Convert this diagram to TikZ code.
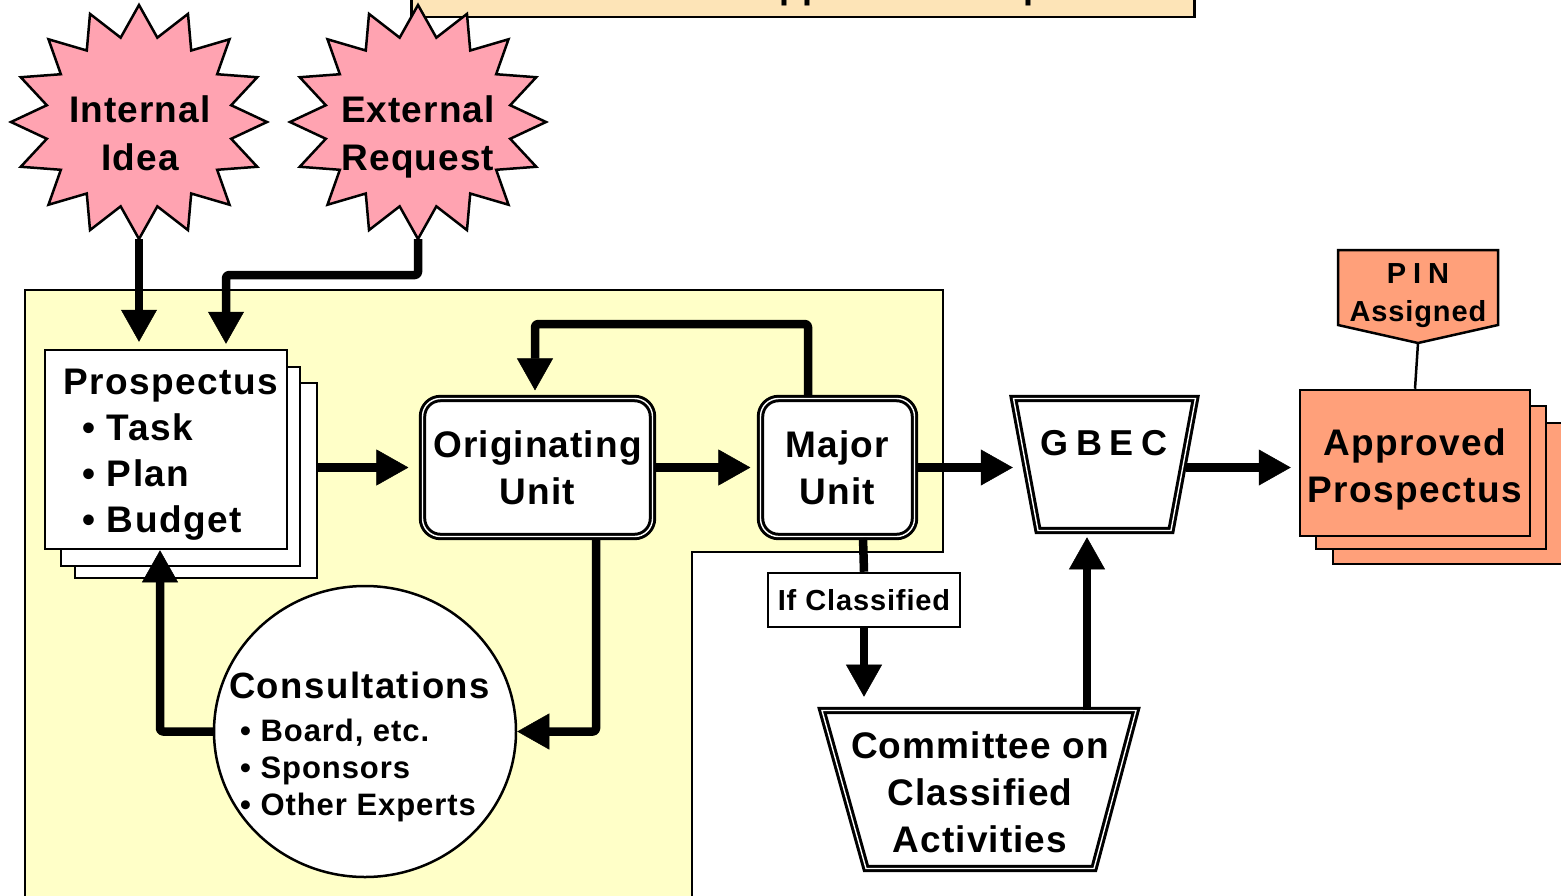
\documentclass[tikz,border=0pt]{standalone}
\usepackage{fontspec}
\setmainfont{Liberation Sans}[LetterSpace=3]
\newfontfamily\widefont{Liberation Sans}[LetterSpace=4]
\usetikzlibrary{arrows.meta,shapes.geometric}
\definecolor{pinkc}{RGB}{255,163,177}
\definecolor{yellowc}{RGB}{255,255,200}
\definecolor{titlec}{RGB}{253,228,183}
\definecolor{salmonc}{RGB}{255,160,122}
\newcommand\fsz[2]{\fontsize{#1}{#2}\selectfont}
\tikzset{
  box/.style={draw, line width=2.5pt, fill=white, inner sep=0pt},
  dbl/.style={draw, line width=3pt, double=white, double distance=1.4pt, fill=white, inner sep=0pt},
  arr/.style={line width=8.5pt, line join=round, rounded corners=3pt,
    -{Triangle[width=36pt,length=32pt,line width=0.5pt]}},
  bar/.style={line width=8.5pt},
  thinline/.style={line width=2.5pt},
  txt/.style={inner sep=0pt, font=\bfseries},
  starsty/.style={draw, line width=2.5pt, fill=pinkc, line join=miter},
  frame/.style={inner sep=0pt},
}
\begin{document}
\begin{tikzpicture}[x=1pt,y=-1pt]
\useasboundingbox (0,0) rectangle (1561,895);
% title box (mostly cut off)
\node[box, fill=titlec, minimum width=783, minimum height=60, anchor=south west] (titlebox) at (410,18) {};
\node[txt, anchor=base west, font=\bfseries\fsz{36}{44}] (title) at (515,-2) {From Idea to Approved Prospectus};
% yellow region
\draw[line width=2.5pt, fill=yellowc] (25,290) -- (943,290) -- (943,552) -- (692,552) -- (692,905) -- (25,905) -- cycle;
% starbursts
\draw[starsty] plot[samples at={0,...,31}, variable=\i]
  ({139+(128-34*mod(\i,2))*cos(90+\i*11.25)}, {122+(117-31*mod(\i,2))*sin(90+\i*11.25)}) -- cycle;
\draw[starsty] plot[samples at={0,...,31}, variable=\i]
  ({418+(128-34*mod(\i,2))*cos(90+\i*11.25)}, {122+(117-31*mod(\i,2))*sin(90+\i*11.25)}) -- cycle;
\node[txt, align=center, font=\bfseries\fsz{37}{48}] (idea) at (140,133) {Internal\\Idea};
\node[txt, align=center, font=\bfseries\fsz{37}{48}] (req) at (418,137) {External\\Request};
\coordinate (ideaB) at (139,239);
\coordinate (reqB) at (418,239);
% prospectus stack
\node[box, minimum width=242, minimum height=195] (pros3) at (196,480.5) {};
\node[box, minimum width=239, minimum height=199] (pros2) at (180.5,466.5) {};
\node[box, minimum width=242, minimum height=199] (pros) at (166,449.5) {};
\node[txt, anchor=base west, align=left, font=\widefont\bfseries\fsz{37}{46}] (prost) at (63,532)
  {Prospectus\\\hspace*{19pt}• Task\\\hspace*{19pt}• Plan\\\hspace*{19pt}• Budget};
% units
\node[dbl, rounded corners=18pt, minimum width=230, minimum height=138, align=center, font=\bfseries\fsz{37}{47}] (orig) at (537.5,467.5) {Originating\\Unit};
\node[dbl, rounded corners=18pt, minimum width=154, minimum height=138, align=center, font=\bfseries\fsz{37}{47}] (major) at (837.5,467.5) {Major\\Unit};
% GBEC
\draw[dbl] (1013.5,398.5) -- (1195.5,398.5) -- (1171,530.5) -- (1038,530.5) -- cycle;
\node[frame, minimum width=182, minimum height=132] (gbec) at (1104.5,464.5) {};
\node[txt, anchor=base, font=\bfseries\fsz{36}{40}] (gbect) at (1104,455) {G\hspace{8pt}B\hspace{8pt}E\hspace{8pt}C};
% approved stack
\node[box, fill=salmonc, minimum width=230, minimum height=141] (appr3) at (1448,493.5) {};
\node[box, fill=salmonc, minimum width=230, minimum height=143] (appr2) at (1431,477.5) {};
\node[box, fill=salmonc, minimum width=230, minimum height=146] (appr) at (1415,463) {};
\node[txt, align=center, font=\widefont\bfseries\fsz{37}{47}] (apprt) at (1415,469) {Approved\\Prospectus};
% PIN
\draw[thinline, fill=salmonc] (1338,250) -- (1498,250) -- (1498,325) -- (1418,343) -- (1338,325) -- cycle;
\node[txt, align=center, font=\bfseries\fsz{29}{38}] (pin) at (1418,296) {P\hspace{7pt}I\hspace{7pt}N\\Assigned};
\coordinate (pintip) at (1418,343);
% consultations
\node[draw, line width=2.5pt, fill=white, ellipse, minimum width=302, minimum height=291, inner sep=0pt] (cons) at (365,731.5) {};
\node[txt, anchor=base west, font=\widefont\bfseries\fsz{36.5}{40}] (const) at (229,698) {Consultations};
\node[txt, anchor=base west, align=left, font=\bfseries\fsz{31}{37}] (consl) at (240,815) {• Board, etc.\\• Sponsors\\• Other Experts};
% if classified
\node[box, minimum width=192, minimum height=54, font=\bfseries\fsz{29}{34}] (ifc) at (864,600) {If Classified};
% committee
\draw[dbl] (822,710.5) -- (1136,710.5) -- (1094,868.5) -- (866,868.5) -- cycle;
\node[frame, minimum width=314, minimum height=158] (comm) at (979,789.5) {};
\node[txt, align=center, font=\bfseries\fsz{37}{47}] (commt) at (980,792) {Committee on\\Classified\\Activities};
% connectors
\draw[arr, shorten >=7pt] (ideaB) -- (ideaB |- pros.north);
\draw[arr, shorten >=5pt] (reqB) -- ++(0,36) -| ([xshift=60pt]pros.north);
\draw[arr, shorten >=12.6pt] (pros3.east |- orig.west) -- (orig.west);
\draw[arr, shorten >=8.6pt] (orig.east) -- (major.west);
\draw[arr, shorten >=0.5pt] (major.east) -- (major.east -| gbec.west);
\draw[arr, shorten <=-10pt, shorten >=8pt] (gbec.east |- major.east) -- (major.east -| appr.west);
\draw[arr, shorten >=6.6pt] ([xshift=-29.5pt]major.north) -- ++(0,-73) -| ([xshift=-2.5pt]orig.north);
\draw[arr] ([xshift=58.5pt]orig.south) |- (cons.east);
\draw[arr] (cons.west) -| ([xshift=-6pt]pros.south);
\draw[bar] ([xshift=25.5pt]major.south) -- (ifc.north);
\draw[arr, shorten >=13.6pt] (ifc.south) -- (ifc.south |- comm.north);
\draw[arr, shorten >=6.6pt] ([xshift=108pt]comm.north) -- ([xshift=108pt]comm.north |- gbec.south);
\draw[thinline] (pintip) -- (appr.north);
\end{tikzpicture}
\end{document}
